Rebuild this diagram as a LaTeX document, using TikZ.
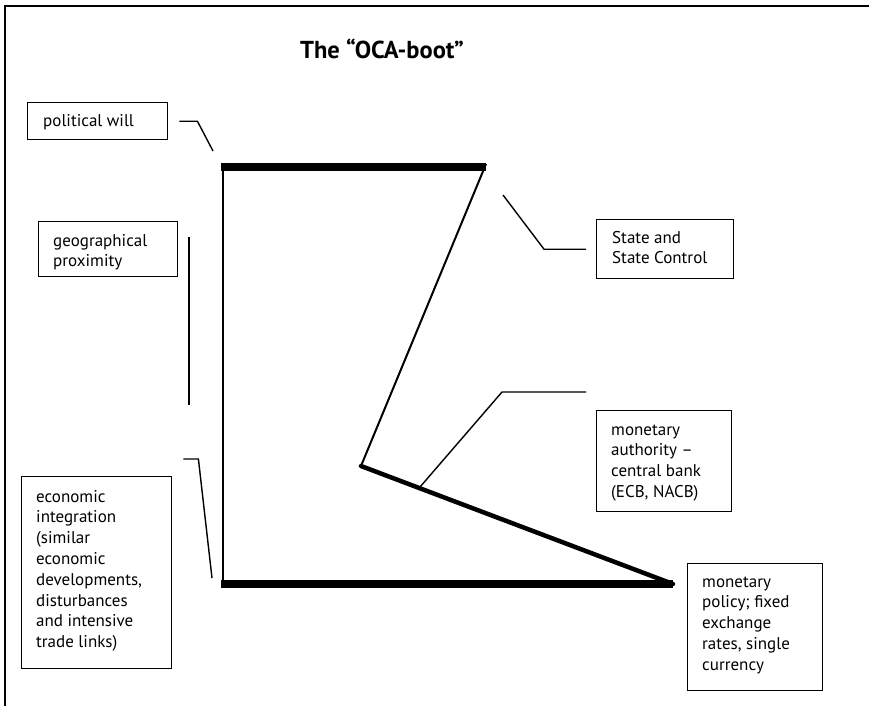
\documentclass[tikz,border=0pt]{standalone}
\usepackage{fontspec}
\setmainfont{PT Sans}
\usetikzlibrary{calc}
\def\lines#1{\parbox[t]{125pt}{#1}}

\begin{document}
\begin{tikzpicture}[x=1pt,y=-1pt,
    frame/.style={draw, line width=1.4pt, inner sep=0pt, anchor=north west},
    lbl/.style={anchor=base west, inner sep=0pt, font=\fontsize{17}{20.8}\selectfont},
    leader/.style={line width=1.4pt},
    bar/.style={line width=8pt},
    shin/.style={line width=2pt},
    sole/.style={line width=4.5pt, line cap=round}]
    %%%%% START %%%%%
    \useasboundingbox (0,0) rectangle (869,706);
    \draw[line width=2.5pt] (5,706) -- (5,6) -- (869,6);

    \node[anchor=base, inner sep=0pt, font=\fontsize{24.5}{28}\selectfont\bfseries] (title) at (382,59) {The “OCA-boot”};

    % boot
    \coordinate (topL) at (221,167);
    \coordinate (topR) at (486,167);
    \coordinate (botL) at (221,584);
    \coordinate (toe) at (673,584);
    \coordinate (heel) at (361,466);
    \draw[bar] (topL) -- (topR);
    \draw[bar] (botL) -- (toe);
    \draw[shin] ([xshift=1.5]topL) -- ([xshift=1.5]botL);
    \draw[shin] ([yshift=3]topR) -- (heel);
    \draw[sole] (heel) -- (toe);

    % boxes
    \node[frame, minimum width=140, minimum height=37] (will) at (27,102) {};
    \node[lbl] at ([shift={(16,25)}]will.north west) {political will};

    \node[frame, minimum width=139, minimum height=55] (geo) at (38,221) {};
    \node[lbl] at ([shift={(15,25)}]geo.north west) {\lines{geographical\\proximity}};

    \node[frame, minimum width=150, minimum height=192] (econ) at (21,476) {};
    \node[lbl] at ([shift={(15,26)}]econ.north west) {\lines{economic\\integration\\(similar\\economic\\developments,\\disturbances\\and intensive\\trade links)}};

    \node[frame, minimum width=137, minimum height=59] (state) at (596,219) {};
    \node[lbl] at ([shift={(16,24)}]state.north west) {\lines{State and\\State Control}};

    \node[frame, minimum width=135, minimum height=101] (auth) at (596,410) {};
    \node[lbl] at ([shift={(15,25)}]auth.north west) {\lines{monetary\\authority --\\central bank\\(ECB, NACB)}};

    \node[frame, minimum width=135, minimum height=127] (policy) at (687,563) {};
    \node[lbl] at ([shift={(15,24)}]policy.north west) {\lines{monetary\\policy; fixed\\exchange\\rates, single\\currency}};

    % leaders
    \coordinate (willEnd) at (213,151);
    \coordinate (econEnd) at (212,578);
    \coordinate (stateEnd) at (503,195);
    \coordinate (authEnd) at (420,487);
    \draw[leader] ([xshift=11]will.east) -- ++(18,0) -- (willEnd);
    \draw[leader] (189,237) -- (189,405);
    \draw[leader] ([xshift=11,yshift=17]econ.north east) -- ++(15,0) -- (econEnd);
    \draw[leader] ([xshift=-10]state.west) -- ++(-42,0) -- (stateEnd);
    \draw[leader] ([xshift=-10,yshift=18]auth.north west) -- ++(-84,0) -- (authEnd);
    %%%%% END %%%%%
\end{tikzpicture}
\end{document}
